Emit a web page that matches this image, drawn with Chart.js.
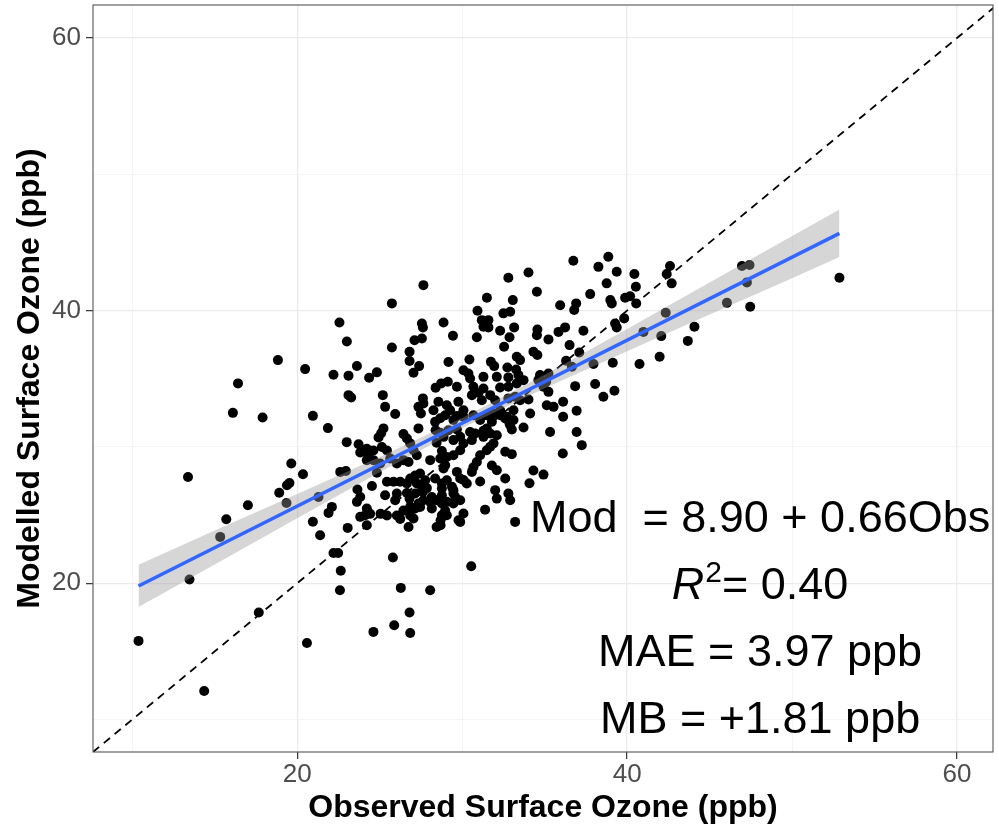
<!DOCTYPE html>
<html><head><meta charset="utf-8">
<script src="https://cdn.jsdelivr.net/npm/chart.js@4.4.1/dist/chart.umd.min.js"></script>
<style>html,body{margin:0;padding:0;background:#fff}#wrap{width:999px;height:830px}</style>
</head><body><div id="wrap"><canvas id="c" width="999" height="830"></canvas></div>
<script>
// Observed (x) and modelled (y) surface ozone, ppb
const obs = [
10.38,13.47,14.36,13.38,15.33,15.70,16.41,16.10,17.01,17.67,17.90,18.83,18.91,19.35,19.53,19.38,19.64,20.35,20.48,20.59,
20.95,20.95,21.29,21.39,21.86,21.90,22.10,22.20,22.20,22.48,22.56,22.61,22.95,22.64,22.59,23.01,23.11,23.11,23.27,23.00,
23.06,23.62,23.72,23.82,23.65,23.82,23.62,24.36,24.83,24.22,24.62,24.32,24.22,25.13,25.44,24.62,25.03,25.64,26.04,26.44,
26.75,24.83,24.53,25.44,25.84,26.24,26.65,26.85,27.25,27.45,27.15,27.76,27.56,27.86,28.36,28.77,29.07,29.38,25.33,26.04,
25.94,26.65,26.81,27.15,27.62,27.65,28.16,28.77,29.47,29.88,24.22,24.42,25.05,25.44,24.12,23.82,24.22,26.04,26.24,26.44,
26.85,26.85,27.15,27.35,27.45,27.05,26.75,28.06,28.16,28.77,28.97,29.07,28.77,29.07,28.45,28.69,28.69,29.78,30.08,31.39,
29.88,33.21,30.55,28.06,25.80,26.28,26.81,25.88,24.62,26.85,25.74,27.65,27.56,27.62,27.56,28.87,25.74,27.11,26.81,26.81,
27.39,27.05,29.17,28.39,28.73,29.13,25.19,25.33,25.94,27.62,27.35,27.50,27.65,28.56,29.07,28.36,28.67,25.23,25.09,24.93,
27.35,26.44,26.65,28.39,28.87,29.17,27.05,27.25,28.45,28.77,29.07,28.06,28.67,28.97,28.87,26.85,29.47,29.88,30.08,30.59,
30.79,31.29,31.70,31.90,31.49,31.09,30.89,30.59,31.09,32.10,29.68,29.88,30.28,32.10,32.61,32.00,32.80,32.91,31.80,30.68,
32.61,33.01,28.77,29.47,29.58,28.45,29.47,30.08,29.47,29.88,30.48,31.49,31.70,32.10,32.91,33.11,33.72,28.26,29.27,29.68,
30.08,31.90,32.30,32.71,33.11,36.74,38.86,38.26,39.37,32.80,34.02,38.76,34.53,37.76,38.98,39.07,31.50,33.07,35.94,36.91,
36.79,30.93,32.50,32.91,31.19,31.59,31.29,31.59,32.30,33.15,34.56,34.53,35.84,36.24,37.35,39.27,39.37,29.44,30.89,32.87,
35.23,36.51,32.54,34.32,34.56,37.10,33.31,33.51,30.44,31.74,31.94,32.74,33.27,30.08,30.38,30.48,31.29,32.10,32.80,33.41,
33.72,34.72,35.23,36.30,36.65,37.96,39.13,29.68,30.68,30.99,31.29,32.30,32.80,33.31,34.62,35.09,34.93,35.23,36.85,38.06,
39.23,38.56,29.77,30.59,31.19,31.70,32.00,32.80,33.21,33.51,34.02,35.13,36.12,36.94,36.12,28.97,29.47,30.08,30.68,31.09,
31.49,31.80,32.30,32.61,32.87,34.12,35.33,36.94,28.67,29.68,31.29,33.01,35.54,37.25,36.10,34.32,34.93,34.08,40.44,42.60,
42.40,40.53,42.70,39.88,40.18,40.55,46.96,47.42,47.26,52.87,46.05,47.46,42.34,39.82,40.99,44.08,42.07,43.68,41.97,40.75
];
const mod = [
15.77,20.27,12.10,27.80,23.40,24.70,34.66,32.50,25.72,17.85,32.16,36.37,26.64,25.89,27.36,27.19,28.79,28.00,35.71,15.62,
32.28,24.51,26.33,23.52,31.38,25.16,25.60,35.30,22.22,22.22,39.13,28.17,28.24,20.92,19.49,37.73,35.23,33.80,33.63,30.35,
24.06,35.94,30.20,29.59,26.88,26.33,25.97,35.07,35.47,29.86,29.74,29.27,29.03,30.00,29.74,29.03,28.79,29.15,28.79,29.03,
28.90,28.11,27.13,27.44,27.44,27.44,27.32,27.68,27.32,28.05,27.90,27.56,27.07,26.98,27.68,27.32,27.56,27.07,26.46,26.58,
26.09,26.62,26.21,26.58,26.70,26.09,26.33,26.46,26.58,26.09,25.48,25.09,25.09,24.97,24.99,24.87,24.26,24.97,24.72,25.34,
25.60,24.97,25.48,25.85,25.60,24.75,24.13,25.97,25.48,25.85,25.34,24.99,24.99,25.97,24.13,24.26,24.62,24.62,25.11,25.40,
24.50,24.50,21.25,19.49,21.89,19.66,17.85,16.92,16.43,16.35,40.53,41.87,39.06,38.76,37.95,39.13,37.30,37.83,36.98,36.30,
35.93,35.44,36.23,34.35,34.66,34.78,33.80,32.94,32.41,33.56,32.94,32.45,33.19,33.31,33.06,31.84,32.11,31.36,31.00,30.70,
31.36,30.94,30.62,31.23,30.74,31.23,29.76,29.39,30.31,29.70,29.27,29.03,29.15,28.66,28.42,30.26,29.39,29.76,30.26,30.50,
30.99,30.74,30.99,30.26,29.76,29.39,28.90,28.17,27.46,28.29,28.17,27.68,27.32,26.21,27.68,26.83,26.58,26.09,28.64,28.51,
29.64,29.47,26.95,26.83,26.33,26.09,25.85,27.58,30.50,30.74,31.10,31.35,30.01,30.86,31.60,31.97,31.43,32.69,32.69,32.26,
32.69,32.45,32.69,32.21,32.69,43.66,43.95,43.21,42.85,42.41,42.80,42.00,41.38,41.21,40.77,40.53,40.94,40.77,40.40,40.53,
40.04,39.99,39.80,39.92,39.30,39.30,38.81,38.77,38.52,38.77,38.62,38.20,38.44,38.77,38.52,39.06,38.77,38.16,38.04,38.04,
37.89,37.47,37.35,36.98,36.74,36.93,36.61,36.37,36.42,36.24,35.93,35.83,35.68,35.63,35.39,35.02,35.14,35.14,35.10,35.27,
34.90,35.27,35.39,36.32,35.88,36.08,36.17,34.41,34.41,33.97,34.29,34.36,34.41,34.66,34.90,34.78,34.41,34.04,34.46,34.61,
34.12,33.68,33.31,33.80,33.43,33.80,33.43,33.56,33.68,33.43,33.48,33.06,33.31,32.65,32.21,32.33,31.97,32.21,32.33,31.97,
32.33,31.85,32.33,32.09,31.72,32.45,31.09,31.09,31.04,31.28,31.19,31.28,32.94,30.13,29.52,28.27,27.97,27.34,42.68,43.27,
42.68,41.75,42.00,40.94,41.06,40.53,43.27,43.34,42.07,42.41,40.57,40.28,39.84,39.43,38.44,38.81,38.13,37.78,36.61,36.08
];
// Fitted smooth line and its confidence band
const fitX = [10.38, 52.87];
const fitY = [19.80, 45.67];
const ribbonX     = [10.38, 15.00, 20.00, 25.00, 30.00, 35.00, 40.00, 45.00, 50.00, 52.87];
const ribbonUpper = [21.36, 23.87, 26.55, 29.27, 32.12, 35.30, 38.66, 42.07, 45.48, 47.42];
const ribbonLower = [18.26, 21.37, 24.77, 28.15, 31.38, 34.30, 37.02, 39.71, 42.38, 43.94];
// 1:1 reference line ends
const oneToOne = [7.62, 62.2];
// Axes
const gridValues = [10, 20, 30, 40, 50, 60];
const majorTicks = [20, 40, 60];
const tickLabels = ['20', '40', '60'];
// Statistics text
const eqText = 'Mod  = 8.90 + 0.66Obs';
const r2Value = '0.40';
const maeText = 'MAE = 3.97 ppb';
const mbText = 'MB = +1.81 ppb';

const FONT = "'Liberation Sans', Arial, Helvetica, sans-serif";
Chart.defaults.font.family = FONT;

const scatterData = obs.map((v, i) => ({x: v, y: mod[i]}));
const fitData = fitX.map((v, i) => ({x: v, y: fitY[i]}));
const upperData = ribbonX.map((v, i) => ({x: v, y: ribbonUpper[i]}));
const lowerData = ribbonX.map((v, i) => ({x: v, y: ribbonLower[i]}));
const diagData = oneToOne.map(v => ({x: v, y: v}));

const isMajor = v => majorTicks.indexOf(v) >= 0;
const gridColor = c => (c.tick && isMajor(c.tick.value)) ? '#EBEBEB' : '#F2F2F2';
const gridWidth = c => (c.tick && isMajor(c.tick.value)) ? 1.3 : 0.8;
const tickCol = c => (c.tick && isMajor(c.tick.value)) ? '#333333' : 'rgba(0,0,0,0)';
const labelFor = v => { const i = majorTicks.indexOf(v); return i >= 0 ? tickLabels[i] : ''; };

const statsPlugin = {
  id: 'stats',
  afterDatasetsDraw(chart) {
    const {ctx, scales: {x, y}} = chart;
    const cx = x.getPixelForValue(48.06);
    const base = [23.74, 18.83, 13.91, 8.99].map(v => y.getPixelForValue(v));
    ctx.save();
    ctx.fillStyle = '#000';
    ctx.textBaseline = 'alphabetic';
    ctx.textAlign = 'center';
    ctx.font = '45px ' + FONT;
    ctx.fillText(eqText, cx, base[0]);
    ctx.fillText(maeText, cx, base[2]);
    ctx.fillText(mbText, cx, base[3]);
    // R^2 line
    ctx.textAlign = 'left';
    ctx.font = 'italic 45px ' + FONT;
    const wR = ctx.measureText('R').width;
    ctx.font = '30px ' + FONT;
    const w2 = ctx.measureText('2').width;
    ctx.font = '45px ' + FONT;
    const rest = '= ' + r2Value;
    const wRest = ctx.measureText(rest).width;
    let sx = cx - (wR + w2 + 1 + wRest) / 2;
    ctx.font = 'italic 45px ' + FONT;
    ctx.fillText('R', sx, base[1]);
    ctx.font = '30px ' + FONT;
    ctx.fillText('2', sx + wR + 1, base[1] - 17);
    ctx.font = '45px ' + FONT;
    ctx.fillText(rest, sx + wR + w2 + 1, base[1]);
    ctx.restore();
  },
  afterDraw(chart) {
    const {ctx, chartArea: a} = chart;
    ctx.save();
    ctx.strokeStyle = '#555';
    ctx.lineWidth = 1.1;
    ctx.strokeRect(a.left, a.top, a.right - a.left, a.bottom - a.top);
    ctx.restore();
  }
};

new Chart(document.getElementById('c'), {
  type: 'scatter',
  data: {
    datasets: [
      {label: 'obs', data: scatterData, pointRadius: 5, pointHoverRadius: 5, pointBackgroundColor: '#000', pointBorderWidth: 0, showLine: false, order: 5},
      {label: 'diag', data: diagData, showLine: true, borderColor: '#000', borderWidth: 1.8, borderDash: [8, 6], pointRadius: 0, fill: false, order: 4},
      {label: 'upper', data: upperData, showLine: true, borderWidth: 0, borderColor: 'rgba(0,0,0,0)', pointRadius: 0, fill: '+1', backgroundColor: 'rgba(153,153,153,0.4)', tension: 0, order: 3},
      {label: 'lower', data: lowerData, showLine: true, borderWidth: 0, borderColor: 'rgba(0,0,0,0)', pointRadius: 0, fill: false, tension: 0, order: 3},
      {label: 'fit', data: fitData, showLine: true, borderColor: '#3366FF', borderWidth: 3.5, pointRadius: 0, fill: false, order: 1}
    ]
  },
  options: {
    responsive: false,
    animation: false,
    events: [],
    devicePixelRatio: 1,
    layout: {padding: {left: 0, right: 6, top: 5, bottom: 0}},
    plugins: {legend: {display: false}, tooltip: {enabled: false}},
    scales: {
      x: {
        type: 'linear', min: 7.62, max: 62.18,
        afterBuildTicks: s => { s.ticks = gridValues.map(v => ({value: v})); },
        afterFit: s => { s.height = 78; s.paddingLeft = 0; s.paddingRight = 0; },
        border: {display: false},
        grid: {color: gridColor, lineWidth: gridWidth, tickColor: tickCol, tickLength: 7, tickWidth: 1.2, drawTicks: true},
        ticks: {callback: labelFor, font: {size: 26}, color: '#4D4D4D', padding: 0, maxRotation: 0, autoSkip: false},
        title: {display: true, text: 'Observed Surface Ozone (ppb)', font: {size: 32, weight: 'bold'}, color: '#000', padding: {top: 0, bottom: 3}}
      },
      y: {
        type: 'linear', min: 7.62, max: 62.42,
        afterBuildTicks: s => { s.ticks = gridValues.map(v => ({value: v})); },
        afterFit: s => { s.width = 93; s.paddingTop = 0; s.paddingBottom = 0; },
        border: {display: false},
        grid: {color: gridColor, lineWidth: gridWidth, tickColor: tickCol, tickLength: 7, tickWidth: 1.2, drawTicks: true},
        ticks: {callback: labelFor, font: {size: 26}, color: '#4D4D4D', padding: 5, autoSkip: false},
        title: {display: true, text: 'Modelled Surface Ozone (ppb)', font: {size: 32, weight: 'bold'}, color: '#000', padding: {top: 11, bottom: 0}}
      }
    }
  },
  plugins: [statsPlugin]
});
</script>
</body></html>
